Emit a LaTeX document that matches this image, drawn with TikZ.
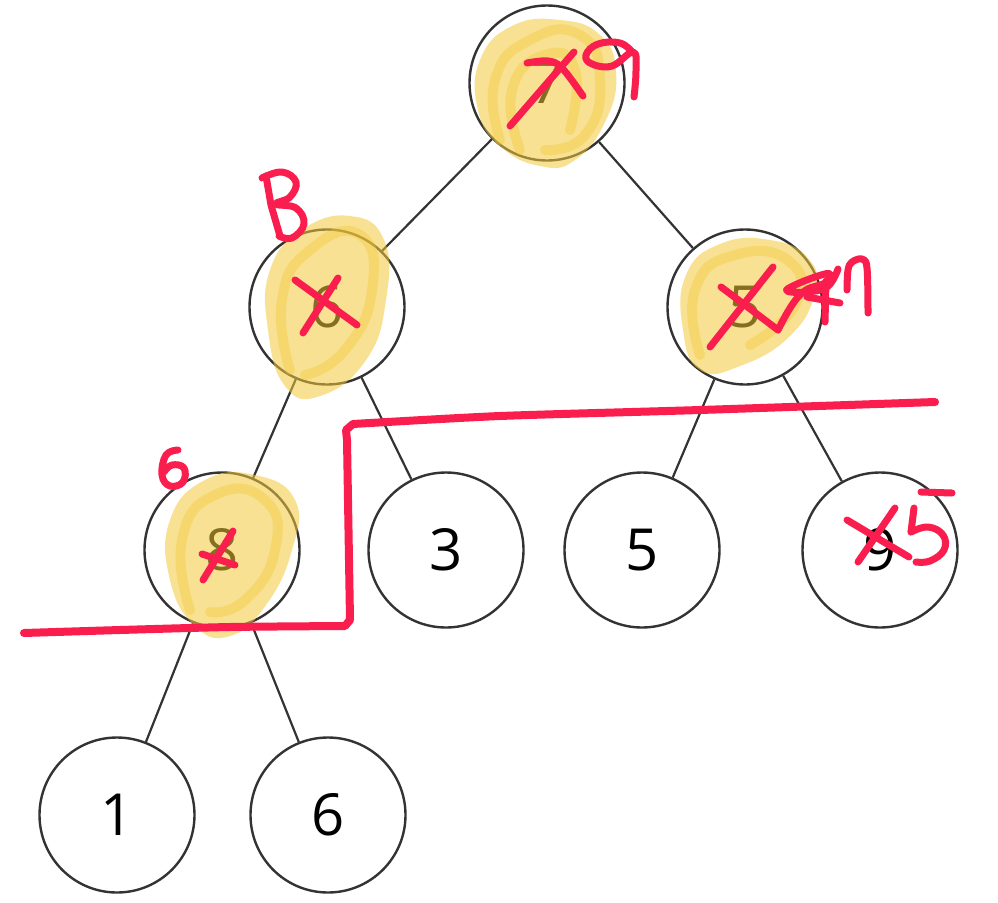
\documentclass[tikz,border=0pt]{standalone}
\usepackage{fontspec}
\setmainfont{Open Sans}
\definecolor{pen}{HTML}{FA1E4E}
\definecolor{hl}{HTML}{F4C93A}
\definecolor{edgec}{HTML}{333333}
\begin{document}
\begin{tikzpicture}[x=1pt,y=-1pt,
  treenode/.style={circle,draw=edgec,line width=2.4pt,fill=white,minimum size=155pt,inner sep=0pt,font=\fontsize{58}{60}\selectfont},
  edgeline/.style={draw=edgec,line width=2.2pt},
  redpen/.style={draw=pen,line width=8pt,line cap=round,line join=round},
  thinpen/.style={draw=pen,line width=7pt,line cap=round,line join=round},
  blob/.style={fill=hl,fill opacity=0.55,draw=none},
  scrib/.style={draw=hl,draw opacity=0.4,line width=10pt,line cap=round,line join=round}]
\useasboundingbox (0,0) rectangle (998,902);
\fill[white] (0,0) rectangle (998,902);
% nodes
\node[treenode] (r)   at (547,83)  {7};
\node[treenode] (a)   at (327,307) {6};
\node[treenode] (b)   at (745,307) {5};
\node[treenode] (aa)  at (222,550) {8};
\node[treenode] (ab)  at (446,550) {3};
\node[treenode] (ba)  at (642,550) {5};
\node[treenode] (bb)  at (880,550) {9};
\node[treenode] (aaa) at (117,815) {1};
\node[treenode] (aab) at (328,815) {6};
% edges
\path[edgeline] (r) -- (a);
\path[edgeline] (r) -- (b);
\path[edgeline] (a) -- (aa);
\path[edgeline] (a) -- (ab);
\path[edgeline] (b) -- (ba);
\path[edgeline] (b) -- (bb);
\path[edgeline] (aa) -- (aaa);
\path[edgeline] (aa) -- (aab);
% yellow highlights
\fill[blob] plot[smooth cycle,tension=0.8] coordinates {(480,60) (512,26) (560,20) (600,35) (616,72) (606,120) (575,160) (540,166) (500,146) (478,110)};
\draw[scrib] plot[smooth,tension=0.9] coordinates {(500,140) (495,80) (530,40) (580,35) (600,80) (585,135) (545,150)};
\draw[scrib] plot[smooth,tension=0.9] coordinates {(520,150) (512,90) (545,55) (575,70) (570,130)};
\fill[blob] plot[smooth cycle,tension=0.8] coordinates {(270,270) (302,230) (350,216) (384,240) (386,300) (366,360) (320,396) (285,386) (268,330)};
\draw[scrib] plot[smooth,tension=0.9] coordinates {(290,370) (282,300) (310,250) (360,235) (372,290) (345,350) (305,375)};
\fill[blob] plot[smooth cycle,tension=0.8] coordinates {(686,275) (720,244) (770,240) (808,258) (815,292) (790,336) (740,366) (700,370) (683,330)};
\draw[scrib] plot[smooth,tension=0.9] coordinates {(700,355) (695,290) (735,255) (790,262) (795,305) (750,345)};
\fill[blob] plot[smooth cycle,tension=0.8] coordinates {(170,520) (205,480) (255,475) (295,500) (292,550) (266,605) (230,636) (195,626) (170,580)};
\draw[scrib] plot[smooth,tension=0.9] coordinates {(190,610) (182,540) (215,495) (265,500) (275,550) (245,600) (210,612)};
% red divider
\draw[redpen] plot[smooth,tension=0.4] coordinates {(24,633) (120,630) (230,627) (345,626)} -- (350,620) -- (347,440) -- (346,430) -- (353,424) -- plot[smooth,tension=0.4] coordinates {(353,424) (500,416) (700,410) (935,402)};
% root annotations: X and 9
\draw[thinpen] (510,126) -- (574,52);
\draw[thinpen] plot[smooth,tension=0.6] coordinates {(527,63) (548,61) (562,68) (583,96)};
\draw[thinpen] plot[smooth,tension=0.7] coordinates {(633,53) (620,43) (598,44) (586,55) (592,64) (612,66) (633,52) (636,70) (634,97)};
% left annotations: 8 and X
\draw[thinpen] (266,176) -- (271,205) -- (280,236);
\draw[thinpen] plot[smooth,tension=0.7] coordinates {(262,178) (282,172) (296,182) (290,197) (276,204) (296,208) (304,224) (292,238) (279,236)};
\draw[thinpen] (295,280) -- (357,325);
\draw[thinpen] (338,278) -- (303,333);
% right annotations: X 9 7
\draw[thinpen] (721,287) -- (745,305) -- (778,330);
\draw[thinpen] (773,267) -- (710,347);
\draw[thinpen] plot[smooth,tension=0.7] coordinates {(778,330) (792,305) (806,290) (825,283) (830,274) (818,276) (795,285) (787,291) (805,292) (827,287) (838,269)};
\draw[thinpen] (826,281) -- (825,322);
\draw[thinpen] (807,297) -- (840,303);
\draw[thinpen] plot[smooth,tension=0.6] coordinates {(847,290) (848,270) (852,262) (862,259) (867,268) (868,313)};
% LL annotations: 6 and X
\draw[thinpen] plot[smooth,tension=0.7] coordinates {(178,450) (166,455) (162,475) (170,486) (183,482) (184,468) (172,465) (164,472)};
\draw[thinpen] (233,531) -- (203,580);
\draw[thinpen] (202,554) -- (235,565);
% RR annotations: X and 5
\draw[thinpen] (847,520) -- (909,557);
\draw[thinpen] (895,508) -- (858,562);
\draw[thinpen] (921,492) -- (952,493);
\draw[thinpen] (914,508) -- (911,532);
\draw[thinpen] plot[smooth,tension=0.7] coordinates {(911,532) (928,527) (943,535) (944,550) (930,561) (916,562)};
\end{tikzpicture}
\end{document}
